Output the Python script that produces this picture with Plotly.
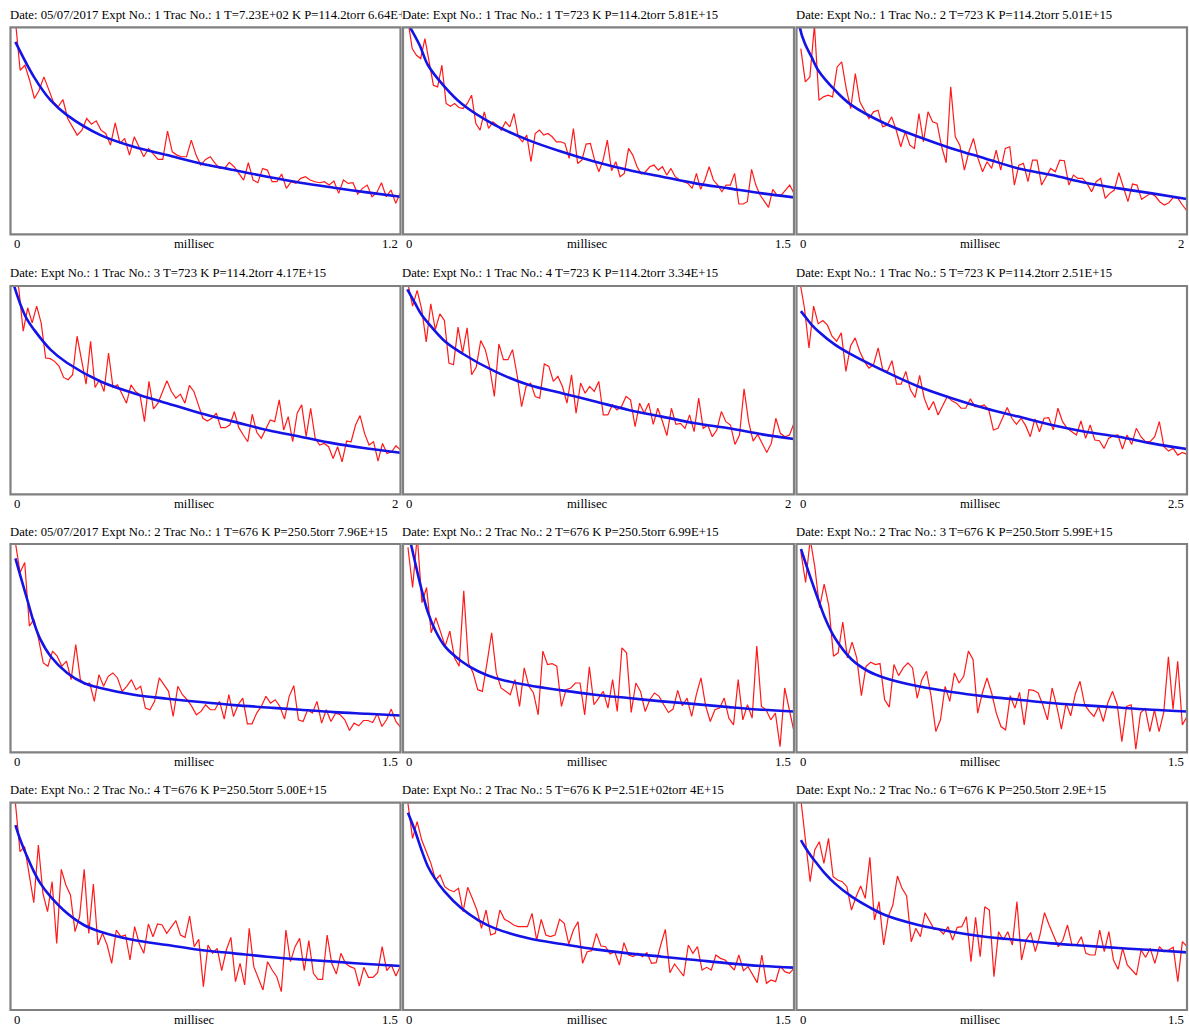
import numpy as np
import plotly.graph_objects as go

W, H = 1189, 1027

titles = [
    "Date: 05/07/2017 Expt No.: 1 Trac No.: 1 T=7.23E+02 K P=114.2torr 6.64E+15",
    "Date: Expt No.: 1 Trac No.: 1 T=723 K P=114.2torr 5.81E+15",
    "Date: Expt No.: 1 Trac No.: 2 T=723 K P=114.2torr 5.01E+15",
    "Date: Expt No.: 1 Trac No.: 3 T=723 K P=114.2torr 4.17E+15",
    "Date: Expt No.: 1 Trac No.: 4 T=723 K P=114.2torr 3.34E+15",
    "Date: Expt No.: 1 Trac No.: 5 T=723 K P=114.2torr 2.51E+15",
    "Date: 05/07/2017 Expt No.: 2 Trac No.: 1 T=676 K P=250.5torr 7.96E+15",
    "Date: Expt No.: 2 Trac No.: 2 T=676 K P=250.5torr 6.99E+15",
    "Date: Expt No.: 2 Trac No.: 3 T=676 K P=250.5torr 5.99E+15",
    "Date: Expt No.: 2 Trac No.: 4 T=676 K P=250.5torr 5.00E+15",
    "Date: Expt No.: 2 Trac No.: 5 T=676 K P=2.51E+02torr 4E+15",
    "Date: Expt No.: 2 Trac No.: 6 T=676 K P=250.5torr 2.9E+15",
]
x_label = "millisec"
x_max = [1.2, 1.5, 2, 2, 2, 2.5, 1.5, 1.5, 1.5, 1.5, 1.5, 1.5]
x_max_labels = ["1.2", "1.5", "2", "2", "2", "2.5", "1.5", "1.5", "1.5", "1.5", "1.5", "1.5"]
t_first = [0.015, 0.019, 0.022, 0.019, 0.026, 0.021, 0.019, 0.019, 0.017, 0.019, 0.019, 0.017]
y_top = 622  # signal (arb. units) at the top of each frame

sig_1 = [643,493,508,463,408,433,473,433,398,383,405,348,323,298,313,348,331,341,313,303,268,335,273,288,238,293,263,233,258,241,225,225,310,248,238,233,233,283,238,208,225,233,213,198,198,216,203,183,163,215,163,155,198,193,158,158,181,138,158,153,168,173,163,158,155,158,148,160,123,163,153,155,121,138,148,113,125,155,113,133,93,125]
sig_2 = [643,558,538,528,588,523,448,443,508,393,385,393,381,378,393,418,333,313,368,318,338,328,313,338,323,363,293,278,298,218,303,313,298,303,293,278,278,273,228,318,213,223,271,273,223,188,223,283,191,218,173,183,258,238,203,181,188,203,208,193,203,178,198,173,163,158,153,138,183,135,163,203,163,148,128,148,148,183,91,91,98,195,148,118,98,81,135,118,118,133,148,123]
sig_3 = [558,458,473,628,403,413,418,413,503,518,438,378,483,398,373,348,368,373,323,328,353,313,263,308,268,258,363,278,368,338,333,263,215,443,293,268,193,248,288,228,188,218,198,253,193,258,263,148,208,213,158,223,223,148,173,198,188,223,221,148,178,168,168,153,128,158,168,108,123,133,185,138,98,151,148,105,113,123,115,98,88,95,111,108,88,70]
sig_4 = [637,617,487,557,512,562,512,407,405,397,382,349,342,357,472,397,329,457,319,342,307,422,319,327,297,272,327,307,297,217,337,255,272,307,339,307,287,299,272,325,307,267,227,219,227,242,199,199,207,247,199,177,157,239,185,167,197,222,217,282,192,232,157,242,267,172,257,167,147,152,142,107,142,97,159,157,207,235,182,147,157,99,152,122,127,145,132]
sig_5 = [627,562,609,552,455,569,492,539,519,392,387,499,422,497,357,379,459,432,377,292,449,402,402,432,357,262,322,332,292,287,389,382,337,352,322,272,357,242,332,302,322,307,337,237,237,267,252,262,292,282,202,272,242,272,209,257,219,175,257,209,212,197,237,187,287,197,207,172,192,247,217,207,149,177,315,217,159,179,152,125,152,227,182,172,177,212]
sig_6 = [637,557,437,562,509,519,505,472,457,482,367,442,467,427,397,377,387,437,372,367,399,329,329,367,312,289,355,287,252,277,237,267,292,279,272,257,257,285,262,262,267,252,192,197,227,259,227,209,227,205,172,225,187,227,229,192,257,217,197,187,177,219,167,207,162,160,137,167,175,177,135,177,149,197,172,157,157,172,217,142,129,137,117,125,119]
sig_7 = [625,537,567,377,397,337,267,257,302,287,257,272,217,322,217,202,207,152,232,197,227,237,222,182,197,217,187,197,132,127,152,222,202,182,107,197,172,157,137,112,122,142,127,127,152,99,172,107,142,162,85,85,117,137,167,147,157,137,99,167,199,97,92,127,117,152,87,127,92,117,112,97,65,87,79,95,95,89,115,77,97,129,92,75]
sig_8 = [612,492,647,447,492,357,402,357,317,362,282,257,482,267,237,187,182,267,357,237,192,182,172,217,137,252,197,177,112,302,262,265,257,137,187,192,207,207,112,255,142,162,182,132,217,122,312,297,119,207,182,122,157,177,167,142,119,129,185,139,162,107,172,222,139,92,127,132,162,102,82,217,97,142,102,317,137,127,97,117,17,192,127,62]
sig_9 = [597,507,637,552,432,502,437,287,297,389,282,329,282,169,257,269,262,265,157,135,262,229,252,267,252,162,217,242,167,62,97,197,152,237,207,227,302,277,117,177,222,177,117,77,67,169,132,179,82,187,185,177,142,97,192,137,69,147,109,175,212,142,122,107,137,92,149,182,142,32,137,142,9,117,132,62,127,62,119,285,129,272,82,107]
sig_10 = [620,475,490,410,322,495,350,295,385,200,422,375,345,235,280,422,230,378,195,230,195,140,240,220,225,150,250,200,170,258,220,258,255,230,250,268,225,218,282,190,212,70,195,170,185,118,180,218,85,140,75,245,130,95,60,145,120,100,55,240,145,190,215,118,208,110,92,92,225,140,108,170,140,130,125,72,128,98,98,112,190,118,135,102,132]
sig_11 = [620,515,565,510,475,440,390,405,370,360,355,365,295,368,335,300,245,300,225,230,300,272,265,255,250,250,250,290,210,272,225,220,225,272,260,198,240,265,140,175,178,230,192,190,168,175,135,202,165,160,170,160,172,140,142,195,242,112,138,120,102,195,170,190,120,128,120,165,155,150,135,120,165,118,130,105,82,165,80,90,85,132,115,110,125]
sig_12 = [630,510,385,480,505,440,515,400,390,385,370,300,340,372,335,458,270,325,195,280,315,402,365,342,205,245,220,292,265,242,242,228,250,210,248,250,280,145,278,160,310,300,100,235,210,235,195,325,150,210,232,175,225,292,255,220,190,210,255,193,195,220,170,165,165,240,175,235,150,122,185,135,120,105,180,158,185,140,190,175,180,188,85,205,190]

fit_t_1 = [0.015,0.072,0.123,0.174,0.277,0.379,0.482,0.585,0.687,0.79,0.892,0.995,1.097,1.2]
fit_y_1 = [578,473,403,358,298,263,238,213,193,173,155,140,126,113]
fit_t_2 = [0.019,0.064,0.096,0.160,0.224,0.353,0.481,0.609,0.737,0.865,0.994,1.122,1.25,1.378,1.5]
fit_y_2 = [633,568,508,443,393,328,283,248,218,193,173,153,138,123,111]
fit_t_3 = [0.012,0.017,0.043,0.077,0.111,0.197,0.282,0.453,0.624,0.795,0.966,1.137,1.308,1.479,1.65,1.821,2.0]
fit_y_3 = [653,621,573,533,493,433,388,333,293,258,228,198,178,155,138,123,106]
fit_t_4 = [0.017,0.051,0.085,0.120,0.205,0.291,0.462,0.632,0.803,0.974,1.145,1.316,1.487,1.658,1.829,2.0]
fit_y_4 = [625,567,522,492,432,392,337,302,272,242,217,192,172,152,137,124]
fit_t_5 = [0.022,0.060,0.094,0.128,0.214,0.299,0.470,0.641,0.812,0.983,1.154,1.325,1.496,1.667,1.838,2.0]
fit_y_5 = [612,572,537,512,457,422,367,327,302,277,252,232,212,197,179,165]
fit_t_6 = [0.028,0.053,0.096,0.139,0.246,0.353,0.566,0.780,0.994,1.207,1.421,1.635,1.848,2.062,2.276,2.5]
fit_y_6 = [547,532,507,487,447,417,367,322,287,257,232,207,187,172,152,135]
fit_t_7 = [0.019,0.038,0.064,0.090,0.115,0.154,0.218,0.282,0.346,0.474,0.603,0.731,0.859,0.987,1.115,1.244,1.372,1.5]
fit_y_7 = [579,527,457,387,337,287,237,207,192,172,160,150,141,134,127,120,115,110]
fit_t_8 = [0.026,0.045,0.071,0.096,0.122,0.160,0.224,0.288,0.353,0.481,0.609,0.737,0.865,0.994,1.122,1.25,1.378,1.5]
fit_y_8 = [637,572,487,417,367,317,272,242,222,200,185,172,162,152,144,135,127,122]
fit_t_9 = [0.017,0.032,0.058,0.083,0.109,0.147,0.212,0.276,0.340,0.468,0.596,0.724,0.853,0.981,1.109,1.237,1.365,1.5]
fit_y_9 = [607,572,512,457,402,342,277,242,222,197,180,167,157,147,140,134,127,122]
fit_t_10 = [0.019,0.038,0.064,0.090,0.115,0.154,0.218,0.282,0.346,0.474,0.603,0.731,0.859,0.987,1.115,1.244,1.372,1.5]
fit_y_10 = [555,510,460,415,380,340,290,255,235,210,195,180,170,160,152,145,138,132]
fit_t_11 = [0.019,0.045,0.071,0.096,0.122,0.160,0.224,0.288,0.353,0.481,0.609,0.737,0.865,0.994,1.122,1.25,1.378,1.5]
fit_y_11 = [592,540,480,430,395,355,305,270,245,215,198,182,170,160,150,140,132,127]
fit_t_12 = [0.017,0.032,0.058,0.083,0.109,0.147,0.212,0.276,0.340,0.468,0.596,0.724,0.853,0.981,1.109,1.237,1.365,1.5]
fit_y_12 = [510,490,460,435,410,380,340,310,285,255,235,220,210,200,193,186,180,173]

signals = [sig_1, sig_2, sig_3, sig_4, sig_5, sig_6, sig_7, sig_8, sig_9, sig_10, sig_11, sig_12]
fit_ts = [fit_t_1, fit_t_2, fit_t_3, fit_t_4, fit_t_5, fit_t_6, fit_t_7, fit_t_8, fit_t_9, fit_t_10, fit_t_11, fit_t_12]
fit_ys = [fit_y_1, fit_y_2, fit_y_3, fit_y_4, fit_y_5, fit_y_6, fit_y_7, fit_y_8, fit_y_9, fit_y_10, fit_y_11, fit_y_12]

# layout geometry (window pixels; the page margin is removed by post_script)
col_px = [(10.5, 400.5), (403.0, 794.0), (796.5, 1187.0)]
row_px = [(27.3, 234.3), (286.0, 494.3), (544.0, 752.3), (802.7, 1010.0)]

FONT = "Liberation Serif, Times New Roman, serif"
fig = go.Figure()
layout = dict(width=W, height=H, margin=dict(l=0, r=0, t=0, b=0),
              paper_bgcolor="white", plot_bgcolor="white", showlegend=False)
annotations = []
shapes = []

for i in range(12):
    r, c = divmod(i, 3)
    k = "" if i == 0 else str(i + 1)
    xa, ya = "x" + k, "y" + k
    x0, x1 = col_px[c]
    top, bot = row_px[r]
    layout["xaxis" + k] = dict(domain=[x0 / W, x1 / W], range=[0, x_max[i]], anchor=ya,
                               showgrid=False, zeroline=False, showticklabels=False,
                               ticks="", showline=False, fixedrange=True)
    layout["yaxis" + k] = dict(domain=[1 - bot / H, 1 - top / H], range=[0, y_top], anchor=xa,
                               showgrid=False, zeroline=False, showticklabels=False,
                               ticks="", showline=False, fixedrange=True)
    y = signals[i]
    t = np.linspace(t_first[i], x_max[i], len(y))
    fig.add_trace(go.Scatter(x=t, y=y, xaxis=xa, yaxis=ya, mode="lines",
                             line=dict(color="#ff1a1a", width=1.2), hoverinfo="skip"))
    fig.add_trace(go.Scatter(x=fit_ts[i], y=fit_ys[i], xaxis=xa, yaxis=ya, mode="lines",
                             line=dict(color="#1414e6", width=2.6, shape="spline", smoothing=1.0),
                             hoverinfo="skip"))
    shapes.append(dict(type="rect", xref=xa + " domain", yref=ya + " domain",
                       x0=0, x1=1, y0=0, y1=1, line=dict(color="#808080", width=2.2),
                       layer="above"))
    annotations.append(dict(text=titles[i], xref="paper", yref="paper",
                            x=x0 / W, y=1 - (top - 12.5) / H, xanchor="left", yanchor="middle",
                            xshift=-2, showarrow=False, bgcolor="white", borderpad=0,
                            font=dict(family=FONT, size=12.7, color="black")))
    for txt, xx, anc, sh in [("0", 0, "left", 1), (x_label, 0.5, "center", -11),
                             (x_max_labels[i], 1, "right", -1)]:
        annotations.append(dict(text=txt, xref=xa + " domain", yref=ya + " domain",
                                x=xx, y=0, xanchor=anc, yanchor="top", xshift=sh, yshift=-1,
                                showarrow=False,
                                font=dict(family=FONT, size=12.7, color="black")))

layout["annotations"] = annotations
layout["shapes"] = shapes
fig.update_layout(**layout)
fig.write_html(
    "out.html",
    config={"displayModeBar": False},
    post_script="document.body.style.margin='0px';document.body.style.overflow='hidden';"
                "document.documentElement.style.overflow='hidden';",
)
